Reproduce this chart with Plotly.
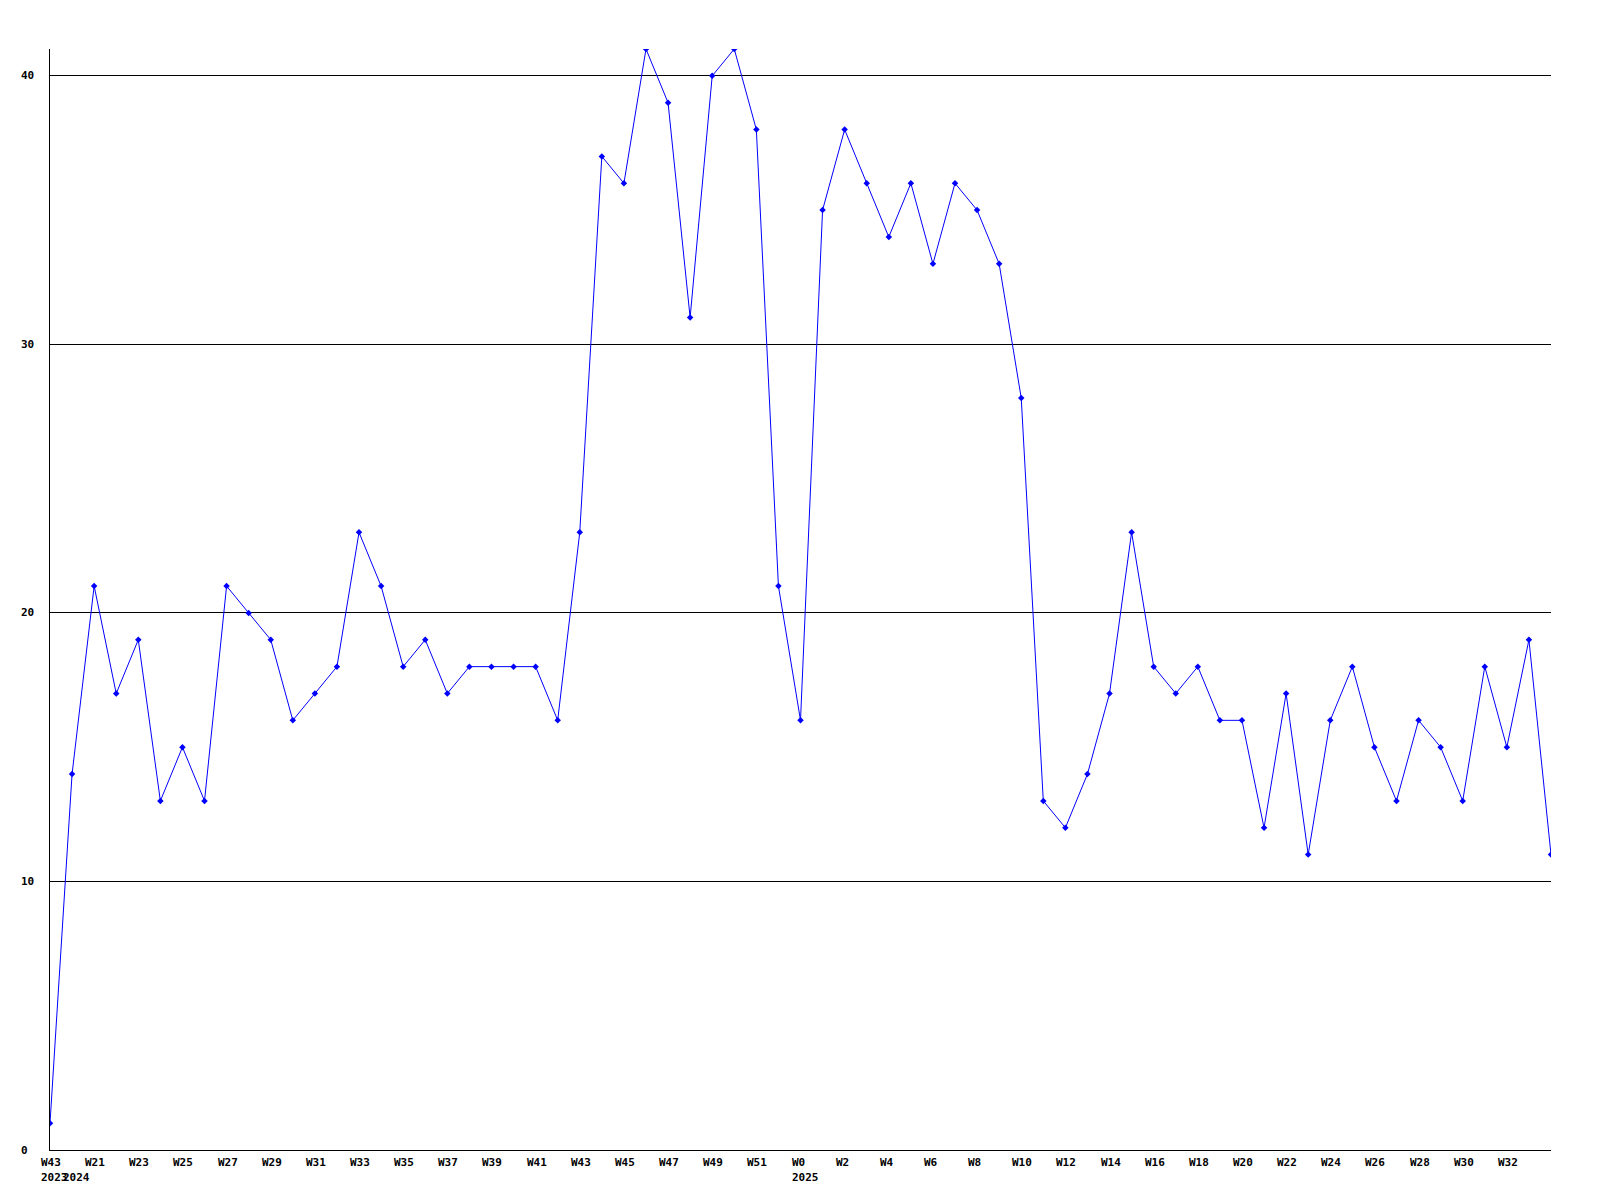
import plotly.graph_objects as go

# Weekly categories (index positions along the x axis)
weeks = (["W43"] + ["W%d" % w for w in range(20, 53)] + ["W%d" % w for w in range(0, 35)])
years = {0: "2023", 1: "2024", 34: "2025"}
values = [1, 14, 21, 17, 19, 13, 15, 13, 21, 20, 19, 16, 17, 18, 23, 21, 18, 19, 17, 18,
          18, 18, 18, 16, 23, 37, 36, 41, 39, 31, 40, 41, 38, 21, 16, 35, 38, 36, 34, 36,
          33, 36, 35, 33, 28, 13, 12, 14, 17, 23, 18, 17, 18, 16, 16, 12, 17, 11, 16, 18,
          15, 13, 16, 15, 13, 18, 15, 19, 11]
y_ticks = [0, 10, 20, 30, 40]

x_idx = list(range(len(values)))
font = dict(family="DejaVu Sans Mono", size=11, color="black", weight="bold")

fig = go.Figure()
fig.add_trace(go.Scatter(
    x=x_idx, y=values, mode="lines+markers",
    line=dict(color="#0000ff", width=1),
    marker=dict(color="#0000ff", size=5, symbol="diamond"),
    hoverinfo="skip",
))

annotations = []
for i, w in enumerate(weeks[:-1]):
    if i % 2 == 0:
        annotations.append(dict(x=i, y=0, xref="x", yref="paper", text=w, showarrow=False,
                                xanchor="left", yanchor="top", xshift=-11, yshift=-4,
                                font=font, align="left"))
for i, yr in years.items():
    annotations.append(dict(x=i, y=0, xref="x", yref="paper", text=yr, showarrow=False,
                            xanchor="left", yanchor="top", xshift=-11, yshift=-19,
                            font=font, align="left"))
for v in y_ticks:
    annotations.append(dict(x=0, y=v, xref="paper", yref="y", text=str(v), showarrow=False,
                            xanchor="left", yanchor="middle", xshift=-31,
                            font=font, align="left"))

fig.update_layout(
    width=1600, height=1200,
    margin=dict(l=50, r=49, t=49, b=50, autoexpand=False),
    paper_bgcolor="white", plot_bgcolor="white",
    showlegend=False, hovermode=False,
    annotations=annotations,
    xaxis=dict(range=[0, len(values) - 1], showgrid=False, zeroline=False,
               showline=True, linecolor="black", linewidth=1, showticklabels=False,
               ticks="", fixedrange=True),
    yaxis=dict(range=[0, 41], tickvals=y_ticks[1:], showgrid=True, gridcolor="black",
               gridwidth=1, zeroline=False, showline=True, linecolor="black", linewidth=1,
               showticklabels=False, ticks="", fixedrange=True),
)

fig.write_html("out.html", config={"displayModeBar": False},
               post_script="document.body.style.margin='0';document.body.style.overflow='hidden';")
